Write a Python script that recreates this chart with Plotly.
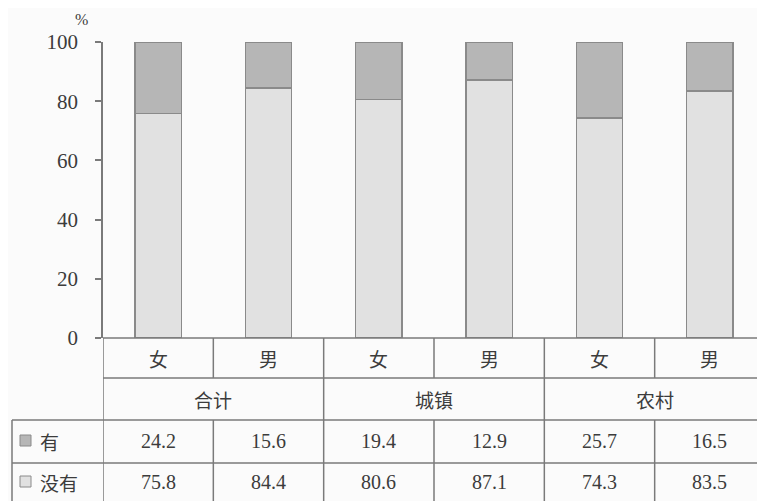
import plotly.graph_objects as go

# ---- data ----
groups = ["合计", "城镇", "农村"]
genders = ["女", "男", "女", "男", "女", "男"]
has = [24.2, 15.6, 19.4, 12.9, 25.7, 16.5]
has_not = [75.8, 84.4, 80.6, 87.1, 74.3, 83.5]
series_names = ["有", "没有"]
yticks = [0, 20, 40, 60, 80, 100]
unit_label = "%"

# ---- style / geometry (window pixels; page body has an 8px margin) ----
OFF = 8
W, H = 765 - OFF, 501 - OFF
L, R, T, B = 103 - OFF, 0, 42 - OFF, H - (338 - OFF)
PH = H - T - B
PW = W - L - R
C_DARK = "#b6b6b6"
C_LIGHT = "#e1e1e1"
C_EDGE = "#8a8a8a"
C_LINE = "#7a7a7a"
C_TEXT = "#3c3c3c"
CJK = "Noto Sans CJK SC"
SERIF = "Liberation Serif"
BG = "#fbfbfb"


def py(p):
    """window pixel row -> paper y"""
    return (H - B - (p - OFF)) / PH


def px(p):
    """window pixel column -> paper x"""
    return (p - OFF - L) / PW


x = list(range(len(genders)))

fig = go.Figure()
fig.add_bar(x=x, y=has_not, name=series_names[1], width=0.42,
            marker=dict(color=C_LIGHT, line=dict(color=C_EDGE, width=1.5)))
fig.add_bar(x=x, y=has, name=series_names[0], width=0.42,
            marker=dict(color=C_DARK, line=dict(color=C_EDGE, width=1.5)))

shapes = []
annotations = []


def hline(x0, x1, yp, xref="x"):
    shapes.append(dict(type="line", xref=xref, yref="paper", x0=x0, x1=x1,
                       y0=py(yp), y1=py(yp), line=dict(color=C_LINE, width=1.5)))


def vline(xv, y0p, y1p, xref="x"):
    shapes.append(dict(type="line", xref=xref, yref="paper", x0=xv, x1=xv,
                       y0=py(y0p), y1=py(y1p), line=dict(color=C_LINE, width=1.5)))


def label(xv, yp, text, font, xref="x", xanchor="center"):
    annotations.append(dict(x=xv, y=py(yp), xref=xref, yref="paper", text=text,
                            xanchor=xanchor, yanchor="middle", showarrow=False,
                            font=font))


n = len(genders)
ZERO = 338
# horizontal rules
hline(-0.5, n - 0.5, ZERO)
hline(-0.5, n - 0.5, 378)
hline(px(12), 1.0, 420, xref="paper")
hline(px(12), 1.0, 463, xref="paper")
# vertical rules
vline(-0.5, ZERO, 510)
for k in range(1, n):
    b = k - 0.5
    if k % 2 == 0:
        vline(b, ZERO, 510)
    else:
        vline(b, ZERO, 378)
        vline(b, 420, 510)
vline(px(12), 420, 510, xref="paper")

f_cjk = dict(family=CJK, size=19, color=C_TEXT)
f_num = dict(family=SERIF, size=20, color=C_TEXT)

for i, g in enumerate(genders):
    label(i, 358, g, f_cjk)
for j, g in enumerate(groups):
    label(2 * j + 0.5, 399, g, f_cjk)
for i in range(n):
    label(i, 441, f"{has[i]:.1f}", f_num)
    label(i, 482, f"{has_not[i]:.1f}", f_num)

# row labels with legend squares
for name, fill, yc in [(series_names[0], C_DARK, 441), (series_names[1], C_LIGHT, 482)]:
    shapes.append(dict(type="rect", xref="paper", yref="paper",
                       x0=px(20), x1=px(31), y0=py(yc + 5), y1=py(yc - 6),
                       fillcolor=fill, line=dict(color=C_EDGE, width=1)))
    label(px(38), yc, name, f_cjk, xref="paper", xanchor="left")

label(px(81), 19, unit_label, dict(family=SERIF, size=16, color=C_TEXT), xref="paper")

fig.update_layout(
    width=W, height=H,
    margin=dict(l=L, r=R, t=T, b=B, pad=0),
    barmode="stack",
    showlegend=False,
    paper_bgcolor=BG, plot_bgcolor=BG,
    shapes=shapes, annotations=annotations,
    xaxis=dict(range=[-0.5, n - 0.5], showticklabels=False, showgrid=False,
               zeroline=False, showline=False, ticks=""),
    yaxis=dict(range=[0, 100], tickvals=yticks, showgrid=False, zeroline=False,
               showline=True, linecolor=C_LINE, linewidth=1.5,
               ticks="outside", ticklen=6, tickcolor=C_LINE, tickwidth=1.5,
               ticklabelstandoff=13,
               tickfont=dict(family=SERIF, size=21, color=C_TEXT)),
)

fig.write_html("out.html")
